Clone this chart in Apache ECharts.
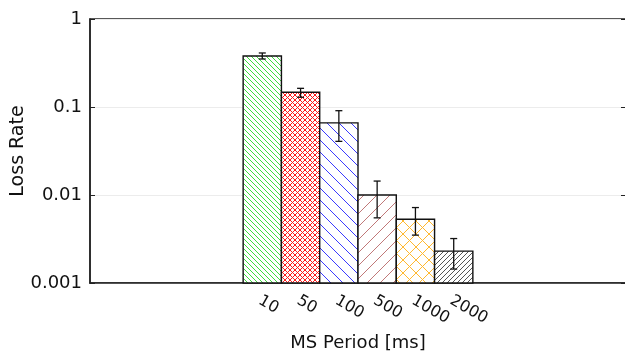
<!DOCTYPE html>
<html>
<head>
<meta charset="utf-8">
<script src="https://cdn.jsdelivr.net/npm/echarts@6/dist/echarts.min.js"></script>
<style>
  html, body { margin: 0; padding: 0; background: #fff; }
  #chart { width: 625px; height: 355px; }
</style>
</head>
<body>
<div id="chart"></div>
<script>
// Measurement-slot periods (ms) and the observed loss rate with its spread
const periods = ['10', '50', '100', '500', '1000', '2000'];
const lossRate = [0.38, 0.147, 0.066, 0.0100, 0.0053, 0.0023];
const errLow = [0.351, 0.129, 0.0407, 0.0055, 0.0035, 0.00144];
const errHigh = [0.411, 0.163, 0.0908, 0.0144, 0.0072, 0.0032];
const yTicks = [0.001, 0.01, 0.1, 1];
const yTickLabels = ['0.001', '0.01', '0.1', '1'];
const yFloor = 0.001;

// Hatch styles, one per period: colour, stroke direction, spacing
const hatchColors = ['#3ddc3d', '#ff1a1a', '#3a3aff', '#c07878', '#ffb830', '#555555'];
const hatchKinds = ['back', 'cross', 'back', 'fwd', 'cross', 'fwd'];
const hatchSteps = [5, 5, 12, 13, 13, 5];

// Empty slots keep the bars in the middle of the frame
const padLeft = 4, padRight = 4;
const cats = [].concat(Array(padLeft).fill(''), periods, Array(padRight).fill(''));
const off = padLeft;

// Build a repeating hatch tile on a small canvas
function hatchTile(color, kind, step) {
  const c = document.createElement('canvas');
  c.width = step; c.height = step;
  const g = c.getContext('2d');
  g.fillStyle = '#fff';
  g.fillRect(0, 0, step, step);
  g.strokeStyle = color;
  g.lineWidth = 1;
  const fwd = () => {
    g.beginPath();
    g.moveTo(-2, step + 2); g.lineTo(step + 2, -2);
    g.moveTo(-2, 2); g.lineTo(2, -2);
    g.moveTo(step - 2, step + 2); g.lineTo(step + 2, step - 2);
    g.stroke();
  };
  const back = () => {
    g.beginPath();
    g.moveTo(-2, -2); g.lineTo(step + 2, step + 2);
    g.moveTo(step - 2, -2); g.lineTo(step + 2, 2);
    g.moveTo(-2, step - 2); g.lineTo(2, step + 2);
    g.stroke();
  };
  if (kind === 'fwd' || kind === 'cross') fwd();
  if (kind === 'back' || kind === 'cross') back();
  return { image: c, repeat: 'repeat' };
}
const fills = periods.map((p, i) => hatchTile(hatchColors[i], hatchKinds[i], hatchSteps[i]));

const barData = periods.map((p, i) => [off + i, lossRate[i]]);
const errData = periods.map((p, i) => [off + i, errLow[i], errHigh[i]]);

const font = 'DejaVu Sans';
const chart = echarts.init(document.getElementById('chart'), null, { renderer: 'canvas' });
chart.setOption({
  animation: false,
  backgroundColor: '#fff',
  grid: {
    left: 90, right: -1, top: 19, bottom: 72,
    containLabel: false,
    outerBoundsMode: 'none',
    show: true, borderColor: '#222', borderWidth: 1.5, backgroundColor: 'transparent'
  },
  xAxis: {
    type: 'category',
    data: cats,
    boundaryGap: true,
    axisLine: { lineStyle: { color: '#222', width: 1.5 } },
    axisTick: { show: false },
    axisLabel: {
      interval: 0,
      rotate: -30,
      align: 'left',
      verticalAlign: 'middle',
      margin: 18,
      padding: [0, 0, 0, -3],
      fontFamily: font,
      fontSize: 16,
      color: '#111'
    },
    name: 'MS Period [ms]',
    nameLocation: 'middle',
    nameGap: 51,
    nameMoveOverlap: false,
    nameTextStyle: { fontFamily: font, fontSize: 18, color: '#111' }
  },
  yAxis: [{
    type: 'log',
    logBase: 10,
    min: 0.001,
    max: 1,
    axisLine: { show: true, lineStyle: { color: '#222', width: 1.5 } },
    axisTick: { show: true, inside: true, length: 5, lineStyle: { color: '#222' } },
    splitLine: { show: true, lineStyle: { color: '#ececec', width: 1 } },
    axisLabel: {
      fontFamily: font,
      fontSize: 18,
      color: '#111',
      margin: 8,
      formatter: function (v) {
        const k = yTicks.findIndex(t => Math.abs(Math.log10(t) - Math.log10(v)) < 1e-6);
        return k >= 0 ? yTickLabels[k] : '';
      }
    },
    name: 'Loss Rate',
    nameLocation: 'middle',
    nameGap: 62,
    nameMoveOverlap: false,
    nameTextStyle: { fontFamily: font, fontSize: 19, color: '#111' }
  }, {
    type: 'log',
    logBase: 10,
    min: 0.001,
    max: 1,
    position: 'right',
    axisLine: { show: true, lineStyle: { color: '#222', width: 1.5 } },
    axisTick: { show: true, inside: true, length: 5, lineStyle: { color: '#222' } },
    splitLine: { show: false },
    axisLabel: { show: false }
  }],
  series: [{
    // Hatched bars rising from the bottom of the log axis
    type: 'custom',
    data: barData,
    z: 2,
    encode: { x: 0, y: 1 },
    renderItem: function (params, api) {
      const w = api.size([1, 0])[0];
      const top = api.coord([api.value(0), api.value(1)]);
      const base = api.coord([api.value(0), yFloor]);
      return {
        type: 'rect',
        shape: { x: top[0] - w / 2, y: top[1], width: w, height: base[1] - top[1] },
        style: { fill: fills[params.dataIndex], stroke: '#111', lineWidth: 1.4 }
      };
    }
  }, {
    type: 'custom',
    data: errData,
    z: 5,
    encode: { x: 0, y: [1, 2] },
    renderItem: function (params, api) {
      const lo = api.coord([api.value(0), api.value(1)]);
      const hi = api.coord([api.value(0), api.value(2)]);
      const cap = 3.5;
      const st = { stroke: '#111', lineWidth: 1.3 };
      return {
        type: 'group',
        children: [
          { type: 'line', shape: { x1: lo[0], y1: lo[1], x2: hi[0], y2: hi[1] }, style: st },
          { type: 'line', shape: { x1: lo[0] - cap, y1: lo[1], x2: lo[0] + cap, y2: lo[1] }, style: st },
          { type: 'line', shape: { x1: hi[0] - cap, y1: hi[1], x2: hi[0] + cap, y2: hi[1] }, style: st }
        ]
      };
    }
  }]
});
</script>
</body>
</html>
